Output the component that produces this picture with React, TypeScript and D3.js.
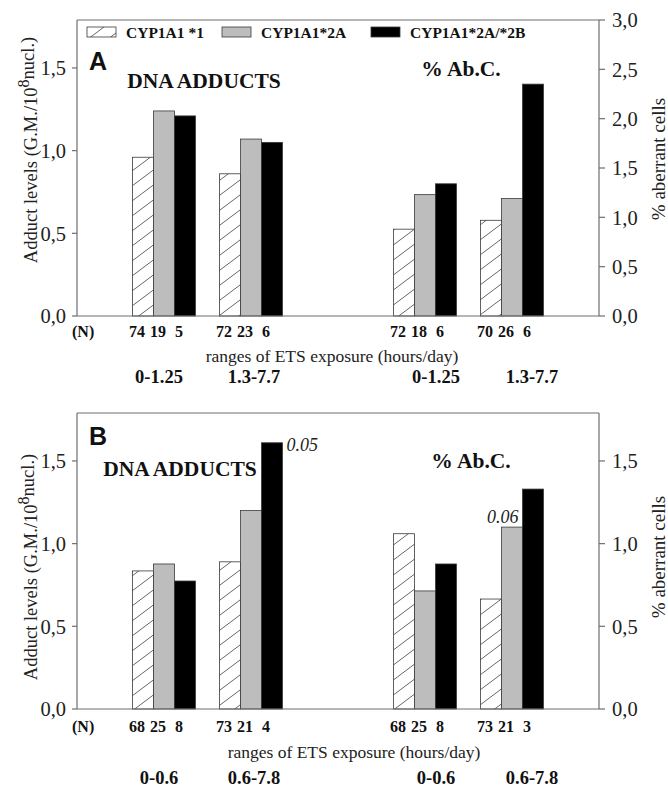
import React from "react";
import * as d3 from "d3";

// genotypes (legend order)
const genotypes = ["CYP1A1 *1", "CYP1A1*2A", "CYP1A1*2A/*2B"];
const slots = ["pad0", "g0", "g1", "gap", "g2", "g3", "pad1"];
const groupSlots = ["g0", "g1", "g2", "g3"];

// panel A
const rangesA = ["0-1.25", "1.3-7.7", "0-1.25", "1.3-7.7"];
const adductsA = [[0.96, 1.24, 1.21], [0.86, 1.07, 1.05]];
const abcA = [[0.88, 1.23, 1.34], [0.97, 1.19, 2.35]];
const nA = [[74, 19, 5], [72, 23, 6], [72, 18, 6], [70, 26, 6]];
const leftTicksA = [0, 0.5, 1.0, 1.5];
const rightTicksA = [0, 0.5, 1.0, 1.5, 2.0, 2.5, 3.0];

// panel B
const rangesB = ["0-0.6", "0.6-7.8", "0-0.6", "0.6-7.8"];
const adductsB = [[0.835, 0.877, 0.774], [0.89, 1.2, 1.61]];
const abcB = [[1.06, 0.714, 0.877], [0.665, 1.1, 1.33]];
const nB = [[68, 25, 8], [73, 21, 4], [68, 25, 8], [73, 21, 3]];
const leftTicksB = [0, 0.5, 1.0, 1.5];
const rightTicksB = [0, 0.5, 1.0, 1.5];
const notesB = [
  { group: 1, series: 2, text: "0.05", place: "right" },
  { group: 3, series: 1, text: "0.06", place: "above" },
];

const W = 668;
const H = 787;
const x0 = 77;
const x1 = 599;
const plotH = 296;
const serif = "'Liberation Serif', 'Times New Roman', serif";
const sans = "'Liberation Sans', Arial, sans-serif";
const fills = ["url(#hatch)", "#bdbdbd", "#000"];
const axisColor = "#6e6e6e";
const fmt = (v: number) => d3.format(".1f")(v).replace(".", ",");

const xSlot = d3.scalePoint<string>().domain(slots).range([x0, x1]);
const xBar = d3.scaleBand<number>().domain([0, 1, 2]).range([-31.5, 31.5]);
const labelShift = [-5, 3, 11, 20];

type Note = { group: number; series: number; text: string; place: string };

function Panel(props: {
  top: number;
  letter: string;
  ranges: string[];
  adducts: number[][];
  abc: number[][];
  ns: number[][];
  leftTicks: number[];
  rightTicks: number[];
  leftMax: number;
  rightMax: number;
  legend: boolean;
  notes: Note[];
  layout: {
    letterY: number; dnaX: number; dnaY: number; abcX: number; abcY: number;
    rangesX: number; leftTitleY: number; rightTitleY: number;
    nY: number; rangesY: number; rangeLabY: number;
  };
}) {
  const { top, layout: L } = props;
  const base = top + plotH;
  const yL = d3.scaleLinear().domain([0, props.leftMax]).range([base, top]);
  const yR = d3.scaleLinear().domain([0, props.rightMax]).range([base, top]);

  const groups = groupSlots.map((s, gi) => ({
    cx: xSlot(s) as number,
    values: gi < 2 ? props.adducts[gi] : props.abc[gi - 2],
    scale: gi < 2 ? yL : yR,
  }));

  return (
    <g>
      {/* frame */}
      <line x1={x0} x2={x1} y1={top} y2={top} stroke={axisColor} strokeWidth={1.2} />
      <line x1={x0} x2={x0} y1={top} y2={base} stroke={axisColor} strokeWidth={1.2} />
      <line x1={x1} x2={x1} y1={top} y2={base} stroke={axisColor} strokeWidth={1.2} />

      {/* bars */}
      {groups.map((g, gi) =>
        g.values.map((v, si) => (
          <rect
            key={`b${gi}-${si}`}
            x={g.cx + (xBar(si) as number)}
            y={g.scale(v)}
            width={xBar.bandwidth()}
            height={base - g.scale(v)}
            fill={fills[si]}
            stroke="#3a3a3a"
            strokeWidth={0.8}
          />
        ))
      )}
      <line x1={x0} x2={x1} y1={base} y2={base} stroke={axisColor} strokeWidth={1.2} />

      {/* left ticks */}
      {props.leftTicks.map((t) => (
        <g key={`l${t}`} transform={`translate(0,${yL(t)})`}>
          <line x1={x0 - 5} x2={x0} stroke={axisColor} strokeWidth={1.2} />
          <text x={x0 - 11} dy="0.35em" textAnchor="end" fontFamily={serif} fontSize={20.5} fill="#222">
            {fmt(t)}
          </text>
        </g>
      ))}
      {/* right ticks */}
      {props.rightTicks.map((t) => (
        <g key={`r${t}`} transform={`translate(0,${yR(t)})`}>
          <line x1={x1} x2={x1 + 6} stroke={axisColor} strokeWidth={1.2} />
          <text x={x1 + 13} dy="0.35em" textAnchor="start" fontFamily={serif} fontSize={20.5} fill="#222">
            {fmt(t)}
          </text>
        </g>
      ))}

      {/* axis titles */}
      <text
        transform={`translate(37,${L.leftTitleY}) rotate(-90)`}
        textAnchor="middle"
        fontFamily={serif}
        fontSize={18.5}
        fill="#222"
      >
        Adduct levels (G.M./10
        <tspan dy={-8} fontSize={16}>8</tspan>
        <tspan dy={5}>nucl.)</tspan>
      </text>
      <text
        transform={`translate(665,${L.rightTitleY}) rotate(-90)`}
        textAnchor="middle"
        fontFamily={serif}
        fontSize={19}
        fill="#222"
      >
        % aberrant cells
      </text>

      {/* panel labels */}
      <text x={89} y={L.letterY} fontFamily={sans} fontWeight="bold" fontSize={25} fill="#111">
        {props.letter}
      </text>
      <text x={L.dnaX} y={L.dnaY} textAnchor="middle" fontFamily={serif} fontWeight="bold" fontSize={21.5} fill="#111">
        DNA ADDUCTS
      </text>
      <text x={L.abcX} y={L.abcY} textAnchor="middle" fontFamily={serif} fontWeight="bold" fontSize={21.5} fill="#111">
        % Ab.C.
      </text>

      {/* significance notes */}
      {props.notes.map((n) => {
        const g = groups[n.group];
        const bx = g.cx + (xBar(n.series) as number);
        const by = g.scale(g.values[n.series]);
        return n.place === "right" ? (
          <text key={n.text} x={bx + xBar.bandwidth() + 4} y={by + 8} fontFamily={serif} fontStyle="italic" fontSize={18} fill="#222">
            {n.text}
          </text>
        ) : (
          <text key={n.text} x={bx + xBar.bandwidth() - 4} y={by - 4} textAnchor="end" fontFamily={serif} fontStyle="italic" fontSize={18} fill="#222">
            {n.text}
          </text>
        );
      })}

      {/* N row */}
      <text x={72} y={L.nY} fontFamily={serif} fontWeight="bold" fontSize={16} fill="#111">
        (N)
      </text>
      {groups.map((g, gi) =>
        props.ns[gi].map((n, si) => (
          <text
            key={`n${gi}-${si}`}
            x={g.cx + (xBar(si) as number) + xBar.bandwidth() / 2 - 6}
            y={L.nY}
            textAnchor="middle"
            fontFamily={serif}
            fontWeight="bold"
            fontSize={16}
            fill="#111"
          >
            {n}
          </text>
        ))
      )}
      <text x={L.rangesX} y={L.rangesY} textAnchor="middle" fontFamily={serif} fontSize={17.5} fill="#222">
        ranges of ETS exposure (hours/day)
      </text>
      {groups.map((g, gi) => (
        <text
          key={`rg${gi}`}
          x={g.cx + labelShift[gi]}
          y={L.rangeLabY}
          textAnchor="middle"
          fontFamily={serif}
          fontWeight="bold"
          fontSize={18.5}
          fill="#111"
        >
          {props.ranges[gi]}
        </text>
      ))}

      {/* legend */}
      {props.legend &&
        genotypes.map((name, i) => {
          const lx = [87, 222, 371][i];
          return (
            <g key={name}>
              <rect x={lx} y={top + 7} width={29} height={10} fill={fills[i]} stroke="#3a3a3a" strokeWidth={0.8} />
              <text x={lx + 39} y={top + 17.5} fontFamily={serif} fontWeight="bold" fontSize={15.5} fill="#111">
                {name}
              </text>
            </g>
          );
        })}
    </g>
  );
}

export default function App() {
  return (
    <svg width={W} height={H} style={{ position: "absolute", left: 0, top: 0, background: "#fff" }}>
      <defs>
        <pattern id="hatch" patternUnits="userSpaceOnUse" width={20} height={15}>
          <rect width={20} height={15} fill="#fff" />
          <path d="M-2,16.5 L22,-1.5 M-22,16.5 L2,-1.5 M18,16.5 L42,-1.5" stroke="#555" strokeWidth={0.9} />
        </pattern>
      </defs>
      <Panel
        top={20}
        letter="A"
        ranges={rangesA}
        adducts={adductsA}
        abc={abcA}
        ns={nA}
        leftTicks={leftTicksA}
        rightTicks={rightTicksA}
        leftMax={1.79}
        rightMax={3}
        legend={true}
        notes={[]}
        layout={{
          letterY: 70, dnaX: 204, dnaY: 88, abcX: 461, abcY: 76,
          rangesX: 332, leftTitleY: 150, rightTitleY: 159,
          nY: 337, rangesY: 362, rangeLabY: 383,
        }}
      />
      <Panel
        top={413}
        letter="B"
        ranges={rangesB}
        adducts={adductsB}
        abc={abcB}
        ns={nB}
        leftTicks={leftTicksB}
        rightTicks={rightTicksB}
        leftMax={1.79}
        rightMax={1.79}
        legend={false}
        notes={notesB}
        layout={{
          letterY: 445, dnaX: 180, dnaY: 476, abcX: 471, abcY: 468,
          rangesX: 354, leftTitleY: 567, rightTitleY: 557,
          nY: 732, rangesY: 758, rangeLabY: 784,
        }}
      />
    </svg>
  );
}
